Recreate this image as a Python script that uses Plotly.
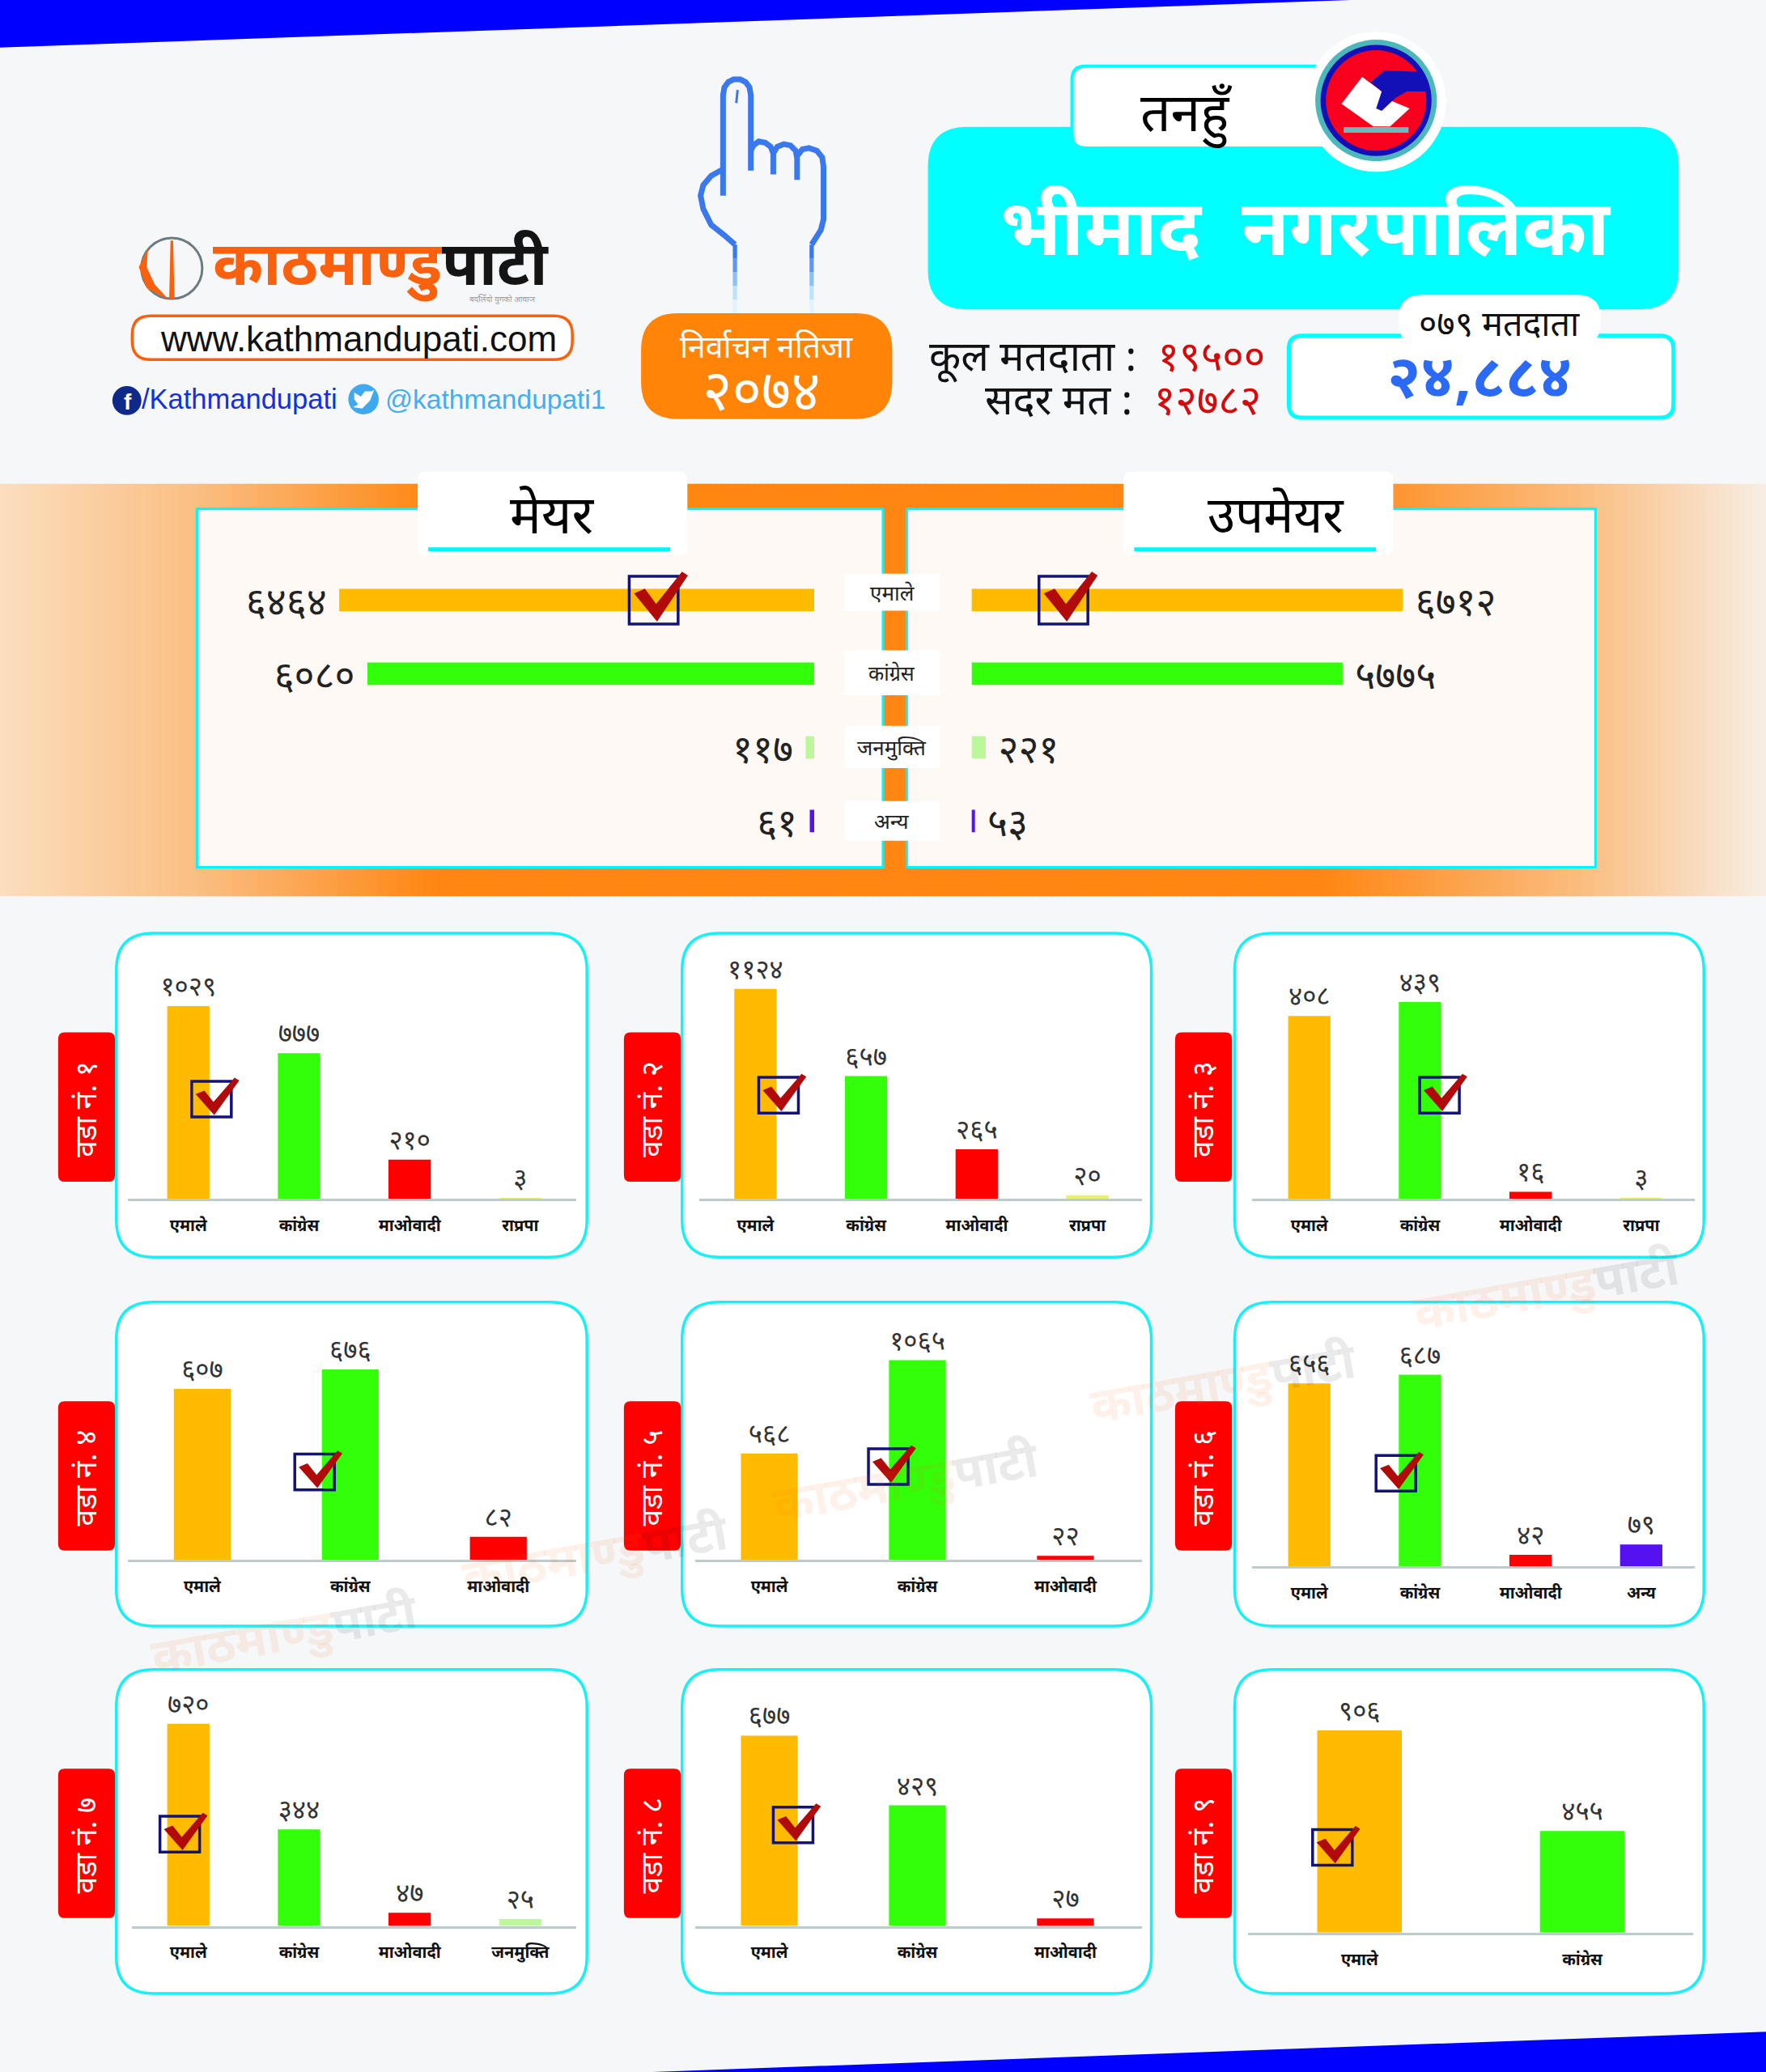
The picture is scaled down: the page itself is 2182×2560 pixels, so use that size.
import plotly.graph_objects as go

W, H = 2182, 2560
S = W / 1336
FONT = "Noto Sans, Noto Sans Devanagari, Lohit Devanagari, sans-serif"
DIG = str.maketrans("0123456789", "०१२३४५६७८९")

def np_num(v):
    return str(v).translate(DIG)

# ---------- data ----------
summary_parties = ["एमाले", "कांग्रेस", "जनमुक्ति", "अन्य"]
mayor_votes = [6464, 6080, 117, 61]
deputy_votes = [6712, 5775, 221, 53]

ward1_parties = ["एमाले", "कांग्रेस", "माओवादी", "राप्रपा"]
ward1_votes = [1029, 777, 210, 3]
ward2_parties = ["एमाले", "कांग्रेस", "माओवादी", "राप्रपा"]
ward2_votes = [1124, 657, 265, 20]
ward3_parties = ["एमाले", "कांग्रेस", "माओवादी", "राप्रपा"]
ward3_votes = [408, 439, 16, 3]
ward4_parties = ["एमाले", "कांग्रेस", "माओवादी"]
ward4_votes = [607, 676, 82]
ward5_parties = ["एमाले", "कांग्रेस", "माओवादी"]
ward5_votes = [568, 1065, 22]
ward6_parties = ["एमाले", "कांग्रेस", "माओवादी", "अन्य"]
ward6_votes = [656, 687, 42, 79]
ward7_parties = ["एमाले", "कांग्रेस", "माओवादी", "जनमुक्ति"]
ward7_votes = [720, 344, 47, 25]
ward8_parties = ["एमाले", "कांग्रेस", "माओवादी"]
ward8_votes = [677, 429, 27]
ward9_parties = ["एमाले", "कांग्रेस"]
ward9_votes = [906, 455]

party_colors = {"एमाले": "#FFBB00", "कांग्रेस": "#33FF0A", "माओवादी": "#FF0000",
                "राप्रपा": "#E9F06C", "जनमुक्ति": "#BDF79C", "अन्य": "#5511F0"}

# geometry in the 1336-wide reference view
ward_layout = [
    (1, ward1_parties, ward1_votes, 88, 706, 907, 97, 436, 142.5, 83.7, 32, 761, 145, 818),
    (2, ward2_parties, ward2_votes, 516, 706, 907, 529, 864, 571.5, 83.7, 32, 748, 574, 815),
    (3, ward3_parties, ward3_votes, 934, 706, 907, 947, 1282, 990.5, 83.7, 32, 758, 1074, 815),
    (4, ward4_parties, ward4_votes, 88, 985, 1180, 97, 436, 153, 112, 43, 1036, 223, 1100),
    (5, ward5_parties, ward5_votes, 516, 985, 1180, 526, 864, 582, 112, 43, 1029, 657, 1096),
    (6, ward6_parties, ward6_votes, 934, 985, 1185, 947, 1282, 990.5, 83.7, 32, 1040, 1041, 1101),
    (7, ward7_parties, ward7_votes, 88, 1263, 1457, 100, 436, 142.5, 83.7, 32, 1304, 121, 1374),
    (8, ward8_parties, ward8_votes, 516, 1263, 1457, 526, 864, 582, 112, 43, 1313, 585, 1367),
    (9, ward9_parties, ward9_votes, 934, 1263, 1462, 944, 1281, 1028.5, 168.5, 64, 1309, 993, 1384),
]

# ---------- helpers ----------
def fx(x): return x * S / W
def fy(y): return 1 - y * S / H

shapes, annots = [], []

def rect(x0, y0, x1, y1, fill, line=None, lw=0, layer="below"):
    shapes.append(dict(type="rect", xref="paper", yref="paper", x0=fx(x0), x1=fx(x1), y0=fy(y0), y1=fy(y1),
                       fillcolor=fill, line=dict(color=line or "rgba(0,0,0,0)", width=lw), layer=layer))

def poly(pts, fill="rgba(0,0,0,0)", line=None, lw=0, layer="below", close=True):
    d = "M" + " L".join(f"{fx(x):.5f},{fy(y):.5f}" for x, y in pts) + (" Z" if close else "")
    shapes.append(dict(type="path", xref="paper", yref="paper", path=d, fillcolor=fill,
                       line=dict(color=line or "rgba(0,0,0,0)", width=lw), layer=layer))

def rrect(x0, y0, x1, y1, r, fill, line=None, lw=0, layer="below"):
    def c(x, y): return f"{fx(x):.5f},{fy(y):.5f}"
    d = (f"M{c(x0+r,y0)} L{c(x1-r,y0)} Q{c(x1,y0)} {c(x1,y0+r)} L{c(x1,y1-r)} Q{c(x1,y1)} {c(x1-r,y1)} "
         f"L{c(x0+r,y1)} Q{c(x0,y1)} {c(x0,y1-r)} L{c(x0,y0+r)} Q{c(x0,y0)} {c(x0+r,y0)} Z")
    shapes.append(dict(type="path", xref="paper", yref="paper", path=d, fillcolor=fill,
                       line=dict(color=line or "rgba(0,0,0,0)", width=lw), layer=layer))

def circle(cx, cy, r, fill, line=None, lw=0, layer="below"):
    shapes.append(dict(type="circle", xref="paper", yref="paper", x0=fx(cx-r), x1=fx(cx+r), y0=fy(cy-r), y1=fy(cy+r),
                       fillcolor=fill, line=dict(color=line or "rgba(0,0,0,0)", width=lw), layer=layer))

def text(x, y, t, size, color="#000", anchor="center", angle=0, font=FONT, valign="middle"):
    annots.append(dict(x=fx(x), y=fy(y), xref="paper", yref="paper", text=t, showarrow=False,
                       font=dict(size=size, color=color, family=font), xanchor=anchor, yanchor=valign,
                       textangle=angle, align="center"))

def check(x, y, w=30, h=27):
    rect(x, y, x+w, y+h, "rgba(0,0,0,0)", "#12127A", 3.5, "above")
    pts = [(.1, .36), (.32, .26), (.55, .58), (1.08, -.1), (1.2, -.02), (.57, .95)]
    poly([(x+u*w, y+v*h) for u, v in pts], "#B00A0A", layer="above")

def lerp(a, b, t): return tuple(a[i] + (b[i]-a[i])*t for i in range(3))

# ---------- background ----------
poly([(0, 0), (1022, 0), (0, 36)], "#0000FF")
poly([(1336, 1537), (1336, 1568), (478, 1568)], "#0000FF")

# orange band
stops = [(0, (252, 222, 190)), (150, (250, 190, 130)), (330, (255, 134, 18)), (1000, (255, 134, 18)),
         (1200, (250, 190, 130)), (1336, (248, 238, 228))]
N = 267
for i in range(N):
    a, b = i*1336/N, (i+1)*1336/N
    m = (a+b)/2
    for j in range(len(stops)-1):
        if stops[j][0] <= m <= stops[j+1][0]:
            c = lerp(stops[j][1], stops[j+1][1], (m-stops[j][0])/(stops[j+1][0]-stops[j][0]))
            break
    rect(a, 366, b+0.7, 678, f"rgb({c[0]:.0f},{c[1]:.0f},{c[2]:.0f})")

# summary boxes
rect(149, 385, 668, 656, "#FEF9F5", "#00F5FF", 3)
rect(686, 385, 1207, 656, "#FEF9F5", "#00F5FF", 3)
for x0, x1, cx, title, sz in [(316, 520, 418, "मेयर", 65), (850, 1054, 965, "उपमेयर", 62)]:
    rrect(x0, 357, x1, 420, 6, "#FFFFFF")
    rect(x0+8, 414, x1-13, 417, "#00F5FF")
    text(cx, 388, title, sz, "#000")
for (y0, y1), name, sz in zip([(434, 462), (492, 526), (549, 581), (606, 636)], summary_parties, [26, 25, 26, 26]):
    rect(639, y0, 711, y1, "#FFFFFF")
    text(675, (y0+y1)/2, name, sz, "#222")

# header logo
circle(130, 203, 23, "rgba(0,0,0,0)", "#6D7B80", 3)
poly([(112, 188), (105, 202), (111, 218), (128, 227), (117, 215), (111, 202)], "#F9610E")
poly([(129, 182), (131, 182), (132, 226), (128, 226)], "#F9610E")
text(160, 198, "<b><span style='color:#F9610E'>काठमाण्डु</span><span style='color:#141414'>पाटी</span></b>", 75, anchor="left")
text(380, 226, "बदलिँदो युगको आवाज", 10, "#9A9A9A")
rrect(100, 239, 433, 272, 14, "#FFFFFF", "#F9610E", 3.5)
text(271, 256, "www.kathmandupati.com", 44, "#111", font="Liberation Sans, Arial")
circle(96, 303, 11, "#0D2A8A")
text(97, 304, "<b>f</b>", 28, "#FFFFFF", font="Liberation Sans, Arial")
text(106, 302, "/Kathmandupati", 34.5, "#1530D8", anchor="left", font="Liberation Sans, Arial")
circle(275, 302, 11.5, "#3FA9F0")
poly([(268, 297), (273, 300), (276, 296), (281, 296), (283, 295), (280, 303), (274, 309), (267, 308), (271, 306), (268, 302)], "#FFFFFF")
text(290, 302, "@kathmandupati1", 33.5, "#44AEF0", anchor="left", font="Liberation Sans, Arial")

# finger
BL = "#3A78EE"
LW = 7
poly([(547, 148), (547, 72), (548, 66), (551, 62), (555, 60), (560, 60), (564, 62), (567, 66), (568, 72), (568, 129)], line=BL, lw=LW, close=False)
poly([(558, 68), (557, 78)], line=BL, lw=3, close=False)
poly([(568, 114), (570, 110), (574, 107), (579, 108), (583, 111), (585, 116), (585, 132)], line=BL, lw=LW, close=False)
poly([(585, 116), (588, 111), (593, 109), (598, 110), (602, 114), (603, 120), (603, 136)], line=BL, lw=LW, close=False)
poly([(603, 118), (607, 113), (612, 112), (618, 114), (622, 119), (623, 126), (623, 166), (621, 174), (614, 185)], line=BL, lw=LW, close=False)
poly([(547, 128), (538, 133), (532, 140), (530, 148), (532, 158), (538, 170), (548, 178), (556, 185)], line=BL, lw=LW, close=False)
fade = [(58, 120, 238), (95, 150, 242), (140, 190, 248), (190, 225, 252), (225, 243, 252)]
for i, col in enumerate(fade):
    y0 = 185 + i*10.4
    for x in (556, 614):
        rect(x-1.6, y0, x+1.6, y0+10.6, f"rgb{col}")
rrect(485, 237, 675, 317, 28, "#FF8408")
text(580, 261, "निर्वाचन नतिजा", 39, "#FFFFFF")
text(576, 294, "२०७४", 70, "#FFFFFF")

# title block
rrect(702, 96, 1270, 234, 30, "#00FFFF")
rrect(811, 50, 1010, 112, 10, "#FFFFFF", "#00FFFF", 4)
circle(1041, 77, 53, "#FFFFFF")
circle(1041, 76, 46, "#4DB8BC")
circle(1041, 76, 42, "#1410B8")
circle(1041, 76, 38, "#F8001E")
Z = lambda a, b: ((1100 + a*.69)/S, b*.383/S)
poly([Z(*p) for p in [(845, 248), (880, 295), (890, 320), (930, 350), (895, 408), (865, 408), (808, 335)]], "#FFFFFF")
poly([Z(*p) for p in [(885, 228), (950, 232), (968, 295), (925, 295), (905, 315), (880, 358), (870, 350), (880, 295), (860, 265)]], "#1410B8")
poly([Z(*p) for p in [(812, 410), (928, 410), (928, 428), (812, 428)]], "#6FB8BC")
text(897, 84, "तनहुँ", 66, "#000")
text(988, 170, "<b>भीमाद  नगरपालिका</b>", 96, "#FFFFFF")

# voters
text(958, 268, "कूल मतदाता :  <span style='color:#D50A0A'>१९५००</span>", 51, "#111", anchor="right")
text(955, 301, "सदर मत :  <span style='color:#D50A0A'>१२७८२</span>", 51, "#111", anchor="right")
rrect(975, 254, 1266, 316, 10, "#FFFFFF", "#00FFFF", 5)
rrect(1058, 223, 1211, 262, 18, "#FFFFFF")
text(1134, 244, "०७९ मतदाता", 43, "#111")
text(1119, 283, "<b>२४,८८४</b>", 74, "#2A6AF5")

# ---------- figure ----------
fig = go.Figure()
layout_axes = {}
ax = 0

def axes(x0, x1, y0, y1, xcfg, ycfg):
    global ax
    ax += 1
    s = "" if ax == 1 else str(ax)
    layout_axes["xaxis"+s] = dict(domain=[fx(x0), fx(x1)], anchor="y"+s, **xcfg)
    layout_axes["yaxis"+s] = dict(domain=[fy(y1), fy(y0)], anchor="x"+s, **ycfg)
    return "x"+s, "y"+s

# summary charts
PX_M, PX_D = 0.0556, 0.0486
NB = "\u00A0"
for vals, (x0, x1), rng, fmt in [
    (mayor_votes, (150, 616), [466/PX_M, 0], lambda s: s + NB),
    (deputy_votes, (735, 1207), [0, 472/PX_D], lambda s: NB + s),
]:
    xa, ya = axes(x0, x1, 426, 649,
                  dict(range=rng, visible=False, fixedrange=True),
                  dict(type="category", categoryorder="array", categoryarray=summary_parties, autorange="reversed",
                       visible=False, fixedrange=True))
    fig.add_trace(go.Bar(x=vals, y=summary_parties, orientation="h", xaxis=xa, yaxis=ya,
                         marker=dict(color=[party_colors[p] for p in summary_parties], line_width=0),
                         text=[fmt(np_num(v)) for v in vals], textposition="outside", cliponaxis=False, constraintext="none",
                         textfont=dict(size=48, color="#222", family=FONT), width=0.305, showlegend=False,
                         hoverinfo="skip"))
check(476, 436, 37, 36)
check(786, 436, 37, 36)

# ward charts
for ward, parties, votes, px0, py0, ay, ax0, ax1, c0, d, bw, top, cx, cy in ward_layout:
    rrect(px0, py0, px0+(356 if px0 == 88 else 355), py0+245, 28, "#FFFFFF", "#18F0F6", 3.5)
    tx0 = {88: 44, 516: 472, 934: 889}[px0]
    rrect(tx0, py0+75, tx0+43, py0+188, 5, "#FF0000")
    text(tx0+20, py0+133, "वडा नं. " + np_num(ward), 37, "#FFFFFF", angle=-90)
    xr = [(ax0-c0)/d, (ax1-c0)/d]
    ymax = (ay-py0)*max(votes)/(ay-top)
    xa, ya = axes(ax0, ax1, py0, ay,
                  dict(type="category", categoryorder="array", categoryarray=parties, range=xr, showline=True,
                       linecolor="#BCCBCB", linewidth=2.5, ticks="outside", ticklen=13, tickcolor="rgba(0,0,0,0)",
                       tickfont=dict(size=20, color="#111", family=FONT, weight="bold"), showgrid=False, fixedrange=True),
                  dict(range=[0, ymax], visible=False, fixedrange=True))
    fig.add_trace(go.Bar(x=parties, y=votes, xaxis=xa, yaxis=ya,
                         marker=dict(color=[party_colors[p] for p in parties], line_width=0),
                         text=[np_num(v) for v in votes], textposition="outside", cliponaxis=False, constraintext="none",
                         textfont=dict(size=33, color="#333", family=FONT), width=bw/d, showlegend=False,
                         hoverinfo="skip"))
    check(cx, cy)

# watermarks
for x, y in [(1170, 975), (925, 1045), (685, 1120), (450, 1175), (215, 1235)]:
    text(x, y, "<b><span style='color:rgba(249,97,14,.09)'>काठमाण्डु</span><span style='color:rgba(20,20,20,.09)'>पाटी</span></b>",
         60, angle=-10)

fig.update_layout(width=W, height=H, margin=dict(l=0, r=0, t=0, b=0), paper_bgcolor="#F6F7F9", plot_bgcolor="rgba(0,0,0,0)",
                  shapes=shapes, annotations=annots, barmode="overlay", showlegend=False, font=dict(family=FONT),
                  **layout_axes)
fig.write_html("out.html", config={"displayModeBar": False},
               post_script="document.body.style.margin='0';document.documentElement.style.background='#F6F7F9';")
